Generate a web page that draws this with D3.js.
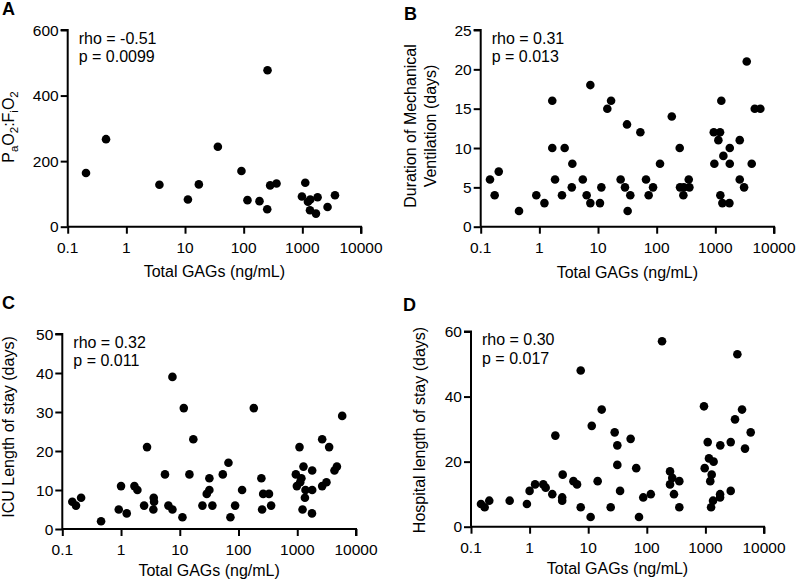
<!DOCTYPE html>
<html>
<head>
<meta charset="utf-8">
<script src="https://cdn.jsdelivr.net/npm/d3@7"></script>
<style>
  body { margin: 0; background: #fff; }
  svg { display: block; font-family: Arial, "Liberation Sans", Helvetica, sans-serif; }
</style>
</head>
<body>
<div id="chart"></div>
<script>
// DATA //

// A: PaO2:FiO2 vs total GAGs
const gagsA = [0.205, 0.45, 3.66, 11.2, 17.2, 36.3, 91.6, 116, 186, 252, 255, 283, 363,
  984, 1122, 1247, 1350, 1365, 1706, 1820, 2690, 3600];
const pfA = [164, 267, 128, 83, 129, 244, 170, 81, 78, 53, 477, 126, 132,
  92, 134, 76, 50, 83, 40, 90, 60, 96];

// B: duration of mechanical ventilation
const gagsB = [0.144, 0.173, 0.203, 0.45, 0.887, 1.22, 1.66, 1.66, 1.85, 2.43, 2.7, 3.65, 3.57,
  5.5, 6.4, 7.4, 7.4, 10.8, 11.4, 14.4, 16.7, 24.3, 28.8, 31.2, 32, 35.5, 52.7, 65.8, 73, 86.7,
  114, 181, 247, 250, 285, 290, 352, 361, 940, 962, 1126, 1203, 1217, 1265, 1318, 1370, 1738,
  1762, 1762, 2606, 2606, 3090, 3430, 4170, 4700, 5850];
const ventB = [6, 4, 7, 2, 4, 3, 16, 10, 6, 4, 10, 8, 5,
  6, 4, 18, 3, 3, 5, 15, 16, 6, 5, 13, 2, 4, 12, 6, 4, 5,
  8, 14, 10, 5, 4, 5, 6, 5, 12, 8, 11, 12, 4, 16, 3, 9, 3,
  10, 8, 11, 6, 5, 21, 8, 15, 15];

// C: ICU length of stay
const gagsC = [0.148, 0.171, 0.209, 0.457, 0.914, 1.0, 1.25, 1.69, 1.9, 2.47, 2.77, 3.6, 3.65,
  3.55, 5.6, 6.4, 7.5, 7.5, 11.1, 11.7, 14.6, 17, 24.3, 31.9, 31.9, 28.8, 35.9, 54, 67.4, 72.8,
  87.5, 115, 182, 245, 252, 263, 330, 359, 946, 984, 1092, 1122, 1176, 1230, 1276, 1350, 1380,
  1780, 1795, 1795, 2655, 2655, 3140, 3490, 4300, 4730, 5820];
const icuC = [7, 6, 8, 2, 5, 11, 4, 11, 10, 6, 21, 8, 7,
  5, 14, 6, 5, 39, 3, 31, 14, 23, 6, 13, 10, 9, 6, 14, 17, 3,
  6, 10, 31, 13, 5, 9, 9, 6, 14, 11, 21, 12, 13, 5, 16, 8, 10,
  4, 15, 10, 23, 11, 12, 21, 15, 16, 29];

// D: hospital length of stay
const gagsD = [0.148, 0.171, 0.205, 0.457, 0.9, 1.0, 1.24, 1.71, 1.88, 2.44, 2.75, 3.67, 3.6,
  3.6, 5.6, 6.45, 7.45, 7.45, 11.0, 11.5, 14.5, 17, 24.2, 28.3, 31.4, 31.4, 35, 53, 66, 73.6,
  87, 117, 182, 249, 249, 272, 291, 359, 359, 946, 972, 1095, 1150, 1210, 1250, 1280, 1350,
  1380, 1780, 1780, 1795, 2705, 2705, 3200, 3510, 4220, 4740, 5930];
const hospD = [7, 6, 8, 8, 7, 11, 13, 13, 12, 10, 28, 16, 9,
  8, 14, 13, 6, 48, 3, 31, 14, 36, 6, 29, 25, 19, 11, 27, 18, 3,
  9, 10, 57, 17, 13, 15, 10, 14, 6, 37, 18, 26, 21, 14, 6, 16, 8,
  20, 10, 9, 25, 26, 11, 33, 53, 36, 24, 29];

const xTicks = [0.1, 1, 10, 100, 1000, 10000];
const xTickLabels = ["0.1", "1", "10", "100", "1000", "10000"];
const xTitle = "Total GAGs (ng/mL)";

// PANEL LAYOUT //

const panels = [
  {
    letter: "A", letterX: 2, letterY: 15,
    x0: 67.7, x1: 361, yTop: 30, yBottom: 226.7,
    yMax: 600, yTicks: [0, 200, 400, 600],
    xs: gagsA, ys: pfA,
    rho: "rho = -0.51", p: "p = 0.0099",
    titleDy: 50, yLabel: "pf", yLabelX: 14, yLabelY: 127,
  },
  {
    letter: "B", letterX: 404, letterY: 20,
    x0: 480.7, x1: 774, yTop: 30, yBottom: 226.7,
    yMax: 25, yTicks: [0, 5, 10, 15, 20, 25],
    xs: gagsB, ys: ventB,
    rho: "rho = 0.31", p: "p = 0.013",
    titleDy: 51, yLabel: ["Duration of Mechanical", "Ventilation (days)"],
    yLabelX: [416, 436], yLabelY: 126,
  },
  {
    letter: "C", letterX: 2, letterY: 309,
    x0: 62.3, x1: 356, yTop: 334, yBottom: 529,
    yMax: 50, yTicks: [0, 10, 20, 30, 40, 50],
    xs: gagsC, ys: icuC,
    rho: "rho = 0.32", p: "p = 0.011",
    titleDy: 47, yLabel: ["ICU Length of stay (days)"], yLabelX: [14], yLabelY: 427,
  },
  {
    letter: "D", letterX: 403, letterY: 311,
    x0: 471, x1: 764, yTop: 331.5, yBottom: 526.7,
    yMax: 60, yTicks: [0, 20, 40, 60],
    xs: gagsD, ys: hospD,
    rho: "rho = 0.30", p: "p = 0.017",
    titleDy: 47, yLabel: ["Hospital length of stay (days)"], yLabelX: [425], yLabelY: 430,
  },
];

const fontSize = 16;
const tickFontSize = 15.5;

// DRAW //

const svg = d3
  .select("#chart")
  .append("svg")
  .attr("width", 796)
  .attr("height", 582);

function addText(parent, x, y, str, size, anchor) {
  return parent.append("text")
    .attr("x", x)
    .attr("y", y)
    .attr("text-anchor", anchor || "start")
    .attr("fill", "#000")
    .style("font-size", size + "px")
    .text(str);
}

function drawPanel(p) {
  const x = d3.scaleLog().domain([0.1, 10000]).range([p.x0, p.x1]);
  const y = d3.scaleLinear().domain([0, p.yMax]).range([p.yBottom, p.yTop]);

  const g = svg.append("g");

  // Panel letter
  addText(g, p.letterX, p.letterY, p.letter, 18).attr("font-weight", "bold");

  // x axis (lines from d3 axis, labels drawn below)
  const xAxis = g
    .append("g")
    .attr("transform", `translate(0,${p.yBottom})`)
    .call(d3.axisBottom(x).tickValues(xTicks).tickFormat("").tickSize(7));

  // y axis
  const yAxis = g
    .append("g")
    .attr("transform", `translate(${p.x0},0)`)
    .call(d3.axisLeft(y).tickValues(p.yTicks).tickFormat("").tickSize(7));

  [xAxis, yAxis].forEach((a) => {
    a.select(".domain").attr("stroke", "#000").attr("stroke-width", 2);
    a.selectAll(".tick line").attr("stroke", "#000").attr("stroke-width", 2);
    a.selectAll(".tick text").remove();
  });
  // square off axis lines so they meet cleanly
  xAxis.select(".domain").attr("d", `M${p.x0},0H${p.x1}V7`);
  yAxis.select(".domain").attr("d", `M-7,${p.yTop}H0V${p.yBottom}`);

  // tick labels
  xTicks.forEach((t, i) => {
    addText(g, x(t), p.yBottom + 26, xTickLabels[i], tickFontSize, "middle");
  });
  p.yTicks.forEach((t) => {
    addText(g, p.x0 - 9, y(t) + 5.5, String(t), tickFontSize, "end");
  });

  // Points
  g.append("g")
    .selectAll("circle")
    .data(d3.zip(p.xs, p.ys))
    .join("circle")
    .attr("cx", (d) => x(d[0]))
    .attr("cy", (d) => y(d[1]))
    .attr("r", 4.3)
    .attr("fill", "#000");

  // Stats text
  addText(g, p.x0 + 11, p.yTop + 13.5, p.rho, fontSize);
  addText(g, p.x0 + 11, p.yTop + 32, p.p, fontSize);

  // x title
  addText(g, (p.x0 + p.x1) / 2, p.yBottom + p.titleDy, xTitle, fontSize, "middle");

  // y title
  if (p.yLabel === "pf") {
    const t = g.append("text")
      .attr("transform", `translate(${p.yLabelX},${p.yLabelY}) rotate(-90)`)
      .attr("text-anchor", "middle")
      .style("font-size", fontSize + "px");
    const parts = [["P", 0], ["a", 1], ["O", 0], ["2", 1], [":F", 0], ["i", 1], ["O", 0], ["2", 1]];
    parts.forEach(([s, sub], i) => {
      t.append("tspan")
        .style("font-size", (sub ? 11.5 : fontSize) + "px")
        .attr("dy", i === 0 ? 0 : sub ? 4 : -4)
        .text(s);
    });
  } else {
    p.yLabel.forEach((line, i) => {
      g.append("text")
        .attr("transform", `translate(${p.yLabelX[i]},${p.yLabelY}) rotate(-90)`)
        .attr("text-anchor", "middle")
        .style("font-size", fontSize + "px")
        .text(line);
    });
  }
}

panels.forEach(drawPanel);
</script>
</body>
</html>
